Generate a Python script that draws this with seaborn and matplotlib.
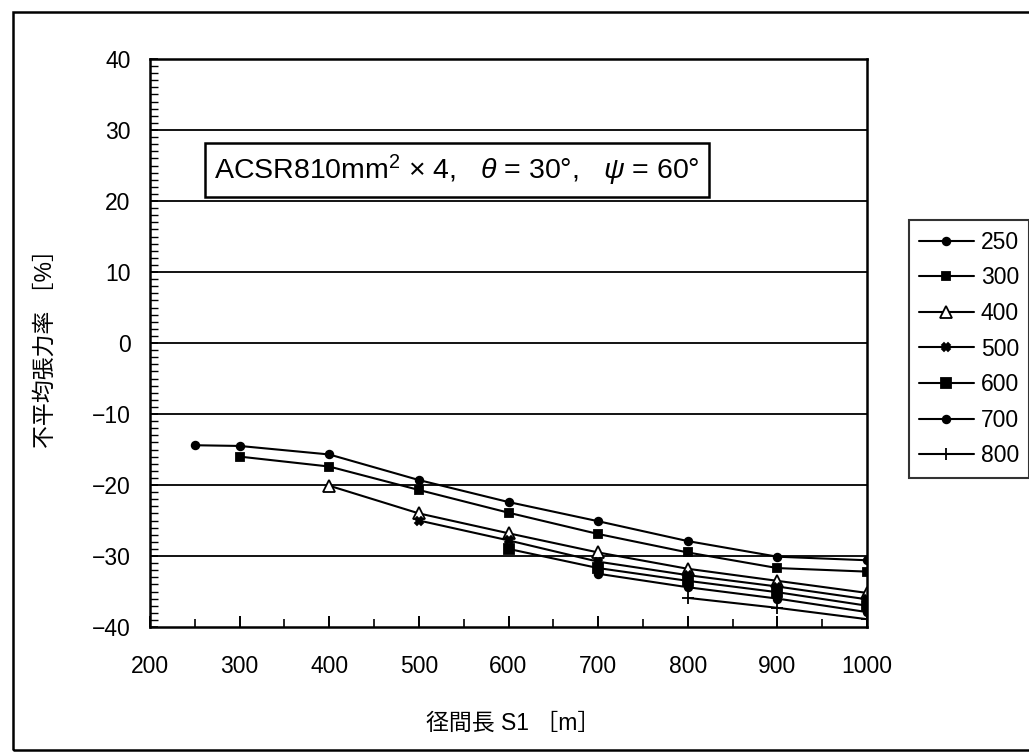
import matplotlib
matplotlib.use("Agg")
import matplotlib.pyplot as plt
import seaborn as sns
import numpy as np
import pandas as pd
from matplotlib.patches import Rectangle
from matplotlib.ticker import MultipleLocator

sns.set_theme(style="white")
plt.rcParams['font.family'] = ['Liberation Sans', 'Noto Sans CJK JP', 'DejaVu Sans']
plt.rcParams['mathtext.fontset'] = 'custom'
plt.rcParams['mathtext.rm'] = 'Liberation Sans'
plt.rcParams['mathtext.it'] = 'Liberation Sans:italic'

# ---- data ----
series_labels = ["250", "300", "400", "500", "600", "700", "800"]
x_250 = [250, 300, 400, 500, 600, 700, 800, 900, 1000]
y_250 = [-14.4, -14.5, -15.7, -19.3, -22.4, -25.1, -27.9, -30.1, -30.6]
x_300 = [300, 400, 500, 600, 700, 800, 900, 1000]
y_300 = [-16.0, -17.4, -20.7, -23.9, -26.9, -29.5, -31.7, -32.2]
x_400 = [400, 500, 600, 700, 800, 900, 1000]
y_400 = [-20.1, -24.0, -26.8, -29.5, -31.8, -33.5, -35.2]
x_500 = [500, 600, 700, 800, 900, 1000]
y_500 = [-25.0, -27.8, -30.8, -32.7, -34.3, -36.1]
x_600 = [600, 700, 800, 900, 1000]
y_600 = [-29.0, -31.7, -33.5, -35.1, -37.0]
x_700 = [700, 800, 900, 1000]
y_700 = [-32.5, -34.4, -36.0, -37.9]
x_800 = [800, 900, 1000]
y_800 = [-35.9, -37.3, -38.9]

x_ticks = [200, 300, 400, 500, 600, 700, 800, 900, 1000]
y_ticks = [-40, -30, -20, -10, 0, 10, 20, 30, 40]

xs = [x_250, x_300, x_400, x_500, x_600, x_700, x_800]
ys = [y_250, y_300, y_400, y_500, y_600, y_700, y_800]

styles = {
    "250": dict(marker="o", ms=5.5, mfc="black"),
    "300": dict(marker="s", ms=6, mfc="black"),
    "400": dict(marker="^", ms=8, mfc="white"),
    "500": dict(marker="X", ms=6, mfc="black"),
    "600": dict(marker="s", ms=6.5, mfc="black"),
    "700": dict(marker="o", ms=5.5, mfc="black"),
    "800": dict(marker="+", ms=9, mfc="black"),
}

W, H = 1029, 754
fig = plt.figure(figsize=(W / 100, H / 100), dpi=100)
fig.patch.set_facecolor("white")

L, R, T, B = 150, 867, 59, 627
ax = fig.add_axes([L / W, 1 - B / H, (R - L) / W, (B - T) / H])
ax.set_facecolor("white")

for lab, xv, yv in zip(series_labels, xs, ys):
    st = styles[lab]
    sns.lineplot(x=xv, y=yv, ax=ax, color="black", linewidth=1.5,
                 marker=st["marker"], markersize=st["ms"],
                 markerfacecolor=st["mfc"], markeredgecolor="black",
                 markeredgewidth=1.3, label=lab, sort=False)

ax.set_xlim(200, 1000)
ax.set_ylim(-40, 40)
ax.set_xticks(x_ticks)
ax.set_yticks(y_ticks)
ax.set_xticklabels([str(v) for v in x_ticks])
ax.set_yticklabels([str(v).replace("-", "\u2212") for v in y_ticks])
ax.xaxis.set_minor_locator(MultipleLocator(50))
ax.yaxis.set_minor_locator(MultipleLocator(1))

ax.grid(False)
for yv in y_ticks[1:-1]:
    ax.axhline(yv, color="black", linewidth=1.3, zorder=0.5)

for s in ax.spines.values():
    s.set_visible(True)
    s.set_color("black")
    s.set_linewidth(1.8)

ax.tick_params(axis="both", which="both", direction="in", color="black",
               left=True, bottom=True, top=False, right=False)
ax.tick_params(axis="x", which="major", length=8, width=1.4, pad=20, labelsize=16.5)
ax.tick_params(axis="x", which="minor", length=6, width=1.2)
ax.tick_params(axis="y", which="major", length=6, width=1.2, pad=14, labelsize=16.5)
ax.tick_params(axis="y", which="minor", length=6, width=1.0)
for lbl in ax.get_xticklabels() + ax.get_yticklabels():
    lbl.set_color("black")

ax.set_xlabel("")
ax.set_ylabel("")
fig.text(513 / W, 1 - 723 / H, "径間長 S1 ［m］", ha="center", va="center",
         fontsize=16.5, color="black")
fig.text(45 / W, 1 - 343 / H, "不平均張力率 ［%］", ha="center", va="center",
         rotation=90, fontsize=16.5, color="black")

# annotation box
fig.text(457 / W, 1 - 170 / H,
         "ACSR810mm$^{2}$ $\\times$ 4,   $\\theta$ = 30°,   $\\psi$ = 60°",
         ha="center", va="center", fontsize=20.5, color="black",
         bbox=dict(boxstyle="square,pad=0.33", facecolor="white",
                   edgecolor="black", linewidth=1.8))

# legend
leg = ax.legend(loc="center", bbox_to_anchor=(969 / W, 1 - 349 / H),
                bbox_transform=fig.transFigure, frameon=True, fontsize=16.5,
                handlelength=2.4, handletextpad=0.3, labelspacing=0.55,
                borderpad=0.45, fancybox=False)
leg.get_frame().set_edgecolor("black")
leg.get_frame().set_linewidth(1.5)
for t in leg.get_texts():
    t.set_color("black")

# outer frame
fig.patches.append(Rectangle((13 / W, 1 - 750 / H), (W + 20) / W, (750 - 12) / H,
                             transform=fig.transFigure, fill=False,
                             edgecolor="black", linewidth=1.8, clip_on=False))

fig.savefig("out.png", dpi=100, facecolor="white")
